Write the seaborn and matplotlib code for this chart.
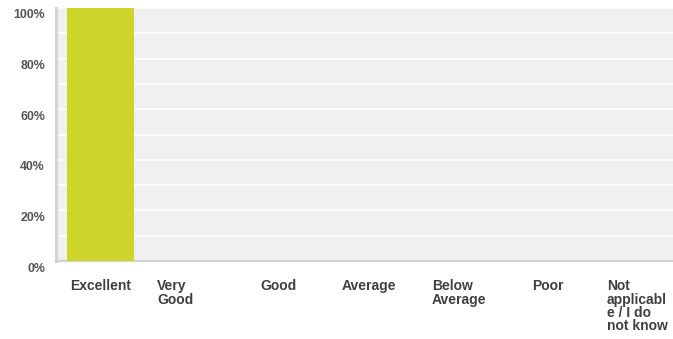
import matplotlib
matplotlib.use("Agg")
import matplotlib.pyplot as plt
import matplotlib.transforms as mtransforms
import seaborn as sns
import pandas as pd
import numpy as np

categories = ["Excellent", "Very Good", "Good", "Average", "Below Average", "Poor",
              "Not applicable / I do not know"]
tick_labels = ["Excellent", "Very\nGood", "Good", "Average", "Below\nAverage", "Poor",
               "Not\napplicabl\ne / I do\nnot know"]
percent = [100, 0, 0, 0, 0, 0, 0]
y_ticks = [0, 20, 40, 60, 80, 100]
y_tick_labels = ["0%", "20%", "40%", "60%", "80%", "100%"]

sns.set_theme(style="white")
plt.rcParams["font.family"] = ["Liberation Sans", "DejaVu Sans"]

df = pd.DataFrame({"category": categories, "percent": percent})

fig = plt.figure(figsize=(6.73, 3.39), dpi=100)
ax = fig.add_axes([56 / 673, 78 / 339, 617 / 673, 253 / 339])

sns.barplot(data=df, x="category", y="percent", color="#cdd52a", saturation=1,
            width=0.76, linewidth=0, ax=ax, zorder=3)

ax.set_facecolor("#f0f0f0")
ax.set_ylim(0, 100)
ax.set_xlim(-0.5, len(categories) - 0.5)
ax.set_yticks(y_ticks)
ax.set_yticks(np.arange(10, 100, 20), minor=True)
ax.set_yticklabels(y_tick_labels, color="#555555", fontsize=8.9, fontweight="bold")
ax.grid(True, axis="y", which="both", color="white", linewidth=1.2, zorder=1)
ax.set_axisbelow(True)
ax.tick_params(axis="both", which="both", length=0)
ax.tick_params(axis="y", pad=8)
ax.tick_params(axis="x", pad=13)
ax.set_xlabel("")
ax.set_ylabel("")

ax.set_xticks(range(len(categories)))
ax.set_xticklabels(tick_labels, fontsize=10, fontweight="bold", color="#404040",
                   va="top", ha="left", multialignment="left", linespacing=0.95)

# left edge of each label relative to its category centre (pixels)
shifts = [-30, -31, -16, -23, -21, -9, -22]
for lbl, dx in zip(ax.get_xticklabels(), shifts):
    lbl.set_transform(lbl.get_transform() +
                      mtransforms.ScaledTranslation(dx / 100, 0, fig.dpi_scale_trans))
for lbl in ax.get_yticklabels():
    lbl.set_transform(lbl.get_transform() +
                      mtransforms.ScaledTranslation(0, -6 / 100, fig.dpi_scale_trans))

for side in ["top", "right"]:
    ax.spines[side].set_visible(False)
ax.spines["left"].set_color("#d4d4d4")
ax.spines["left"].set_linewidth(2.2)
ax.spines["bottom"].set_color("#d0d0d0")
ax.spines["bottom"].set_linewidth(1.5)

fig.savefig("out.png", dpi=100, facecolor="white")
